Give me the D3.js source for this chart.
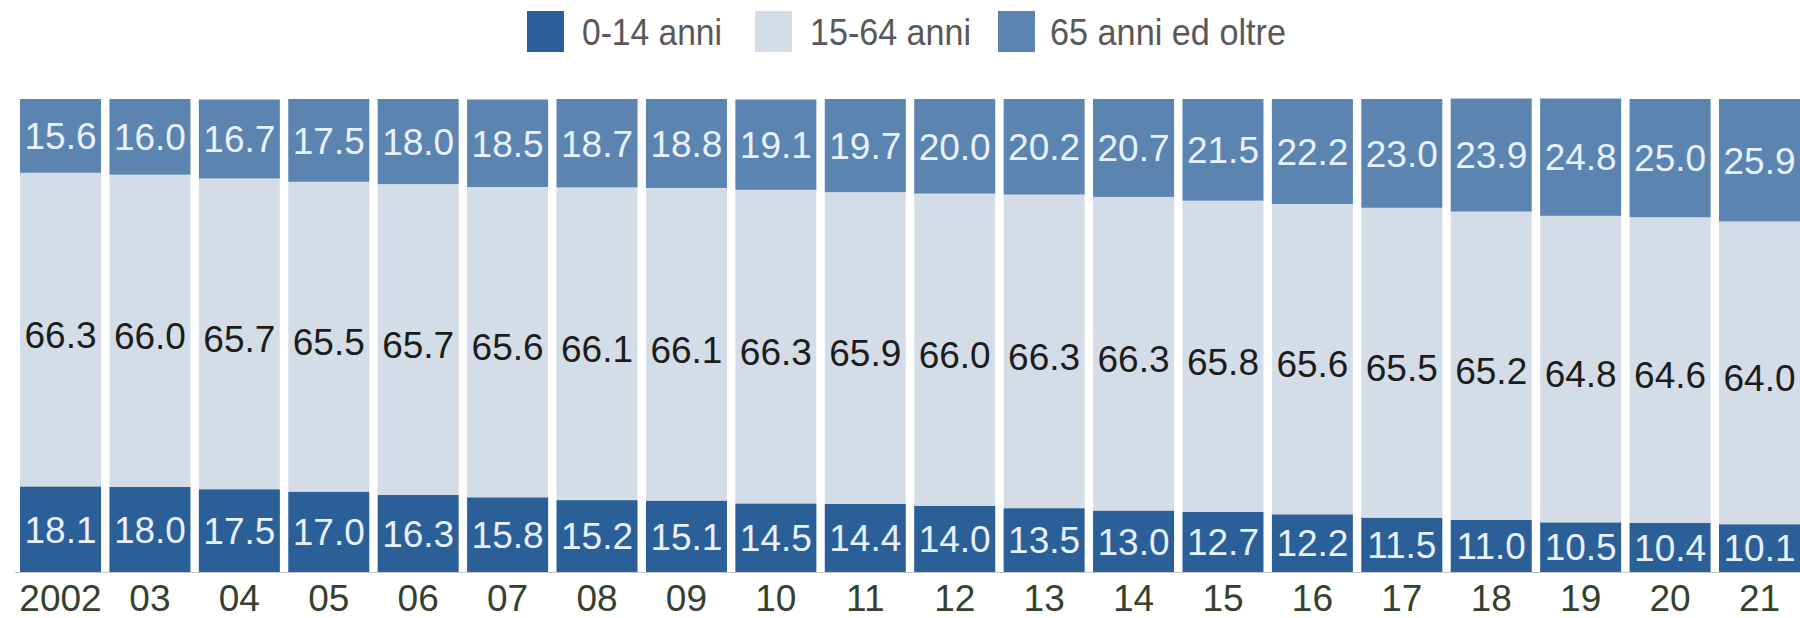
<!DOCTYPE html>
<html>
<head>
<meta charset="utf-8">
<script src="https://cdn.jsdelivr.net/npm/d3@7"></script>
<style>
  body { margin: 0; background: #fff; }
  svg { display: block; font-family: "Liberation Sans", Arial, sans-serif; }
</style>
</head>
<body>
<div id="chart"></div>
<script>
// years shown under the bars
var years = ['2002', '03', '04', '05', '06', '07', '08', '09', '10', '11',
             '12', '13', '14', '15', '16', '17', '18', '19', '20', '21']

// share of population (%) per age group
var young = [18.1, 18.0, 17.5, 17.0, 16.3, 15.8, 15.2, 15.1, 14.5, 14.4,
             14.0, 13.5, 13.0, 12.7, 12.2, 11.5, 11.0, 10.5, 10.4, 10.1]
var adult = [66.3, 66.0, 65.7, 65.5, 65.7, 65.6, 66.1, 66.1, 66.3, 65.9,
             66.0, 66.3, 66.3, 65.8, 65.6, 65.5, 65.2, 64.8, 64.6, 64.0]
var old = [15.6, 16.0, 16.7, 17.5, 18.0, 18.5, 18.7, 18.8, 19.1, 19.7,
           20.0, 20.2, 20.7, 21.5, 22.2, 23.0, 23.9, 24.8, 25.0, 25.9]

var seriesNames = ['0-14 anni', '15-64 anni', '65 anni ed oltre']
var keys = ['young', 'adult', 'old']

var width = 1800
var height = 618

var colors = { young: '#2b5f98', adult: '#d4dde7', old: '#5b84b1' }
var textColors = { young: '#e8f1ff', adult: '#1c1c1c', old: '#e8f1ff' }
// the middle values sit a little under the centre of their segment
var labelShift = { young: 0, adult: 5, old: 0 }

var rows = years.map(function (y, i) {
    return { year: y, young: young[i], adult: adult[i], old: old[i] }
})

var svg = d3.select('#chart').append('svg')
    .attr('width', width)
    .attr('height', height)

var x = d3.scaleBand()
    .domain(years)
    .range([20, 1800])
    .paddingInner(0.094)
    .paddingOuter(0)

var y = d3.scaleLinear()
    .domain([0, 100])
    .range([572, 99])

var stack = d3.stack().keys(keys)
var layers = stack(rows)

// bars
var layerGroups = svg.append('g').attr('class', 'bars')
    .selectAll('g')
    .data(layers)
    .enter().append('g')
    .attr('fill', function (d) { return colors[d.key] })

layerGroups.selectAll('rect')
    .data(function (d) { return d })
    .enter().append('rect')
    .attr('x', function (d) { return x(d.data.year) })
    .attr('width', x.bandwidth())
    .attr('y', function (d) { return y(d[1]) })
    .attr('height', function (d) { return y(d[0]) - y(d[1]) })

// values inside segments
layerGroups.each(function (layer) {
    d3.select(this).selectAll('text')
        .data(layer)
        .enter().append('text')
        .attr('x', function (d) { return x(d.data.year) + x.bandwidth() / 2 })
        .attr('y', function (d) { return (y(d[0]) + y(d[1])) / 2 + labelShift[layer.key] })
        .attr('dy', '0.36em')
        .attr('text-anchor', 'middle')
        .attr('font-size', 37)
        .attr('fill', textColors[layer.key])
        .text(function (d) { return d.data[layer.key].toFixed(1) })
})

// baseline
svg.append('line')
    .attr('x1', 15).attr('x2', width)
    .attr('y1', y(0) + 0.5).attr('y2', y(0) + 0.5)
    .attr('stroke', '#c8c8c8')
    .attr('stroke-width', 1)

// year labels
var xAxis = d3.axisBottom(x).tickSize(0).tickPadding(0)
var axisG = svg.append('g')
    .attr('transform', 'translate(0,' + (y(0) + 12) + ')')
    .call(xAxis)
axisG.select('.domain').remove()
axisG.selectAll('text')
    .attr('font-size', 37)
    .attr('font-family', '"Liberation Sans", Arial, sans-serif')
    .attr('fill', '#36402f')
    .attr('dy', '0.72em')

// legend
var legendX = [527, 755, 998]
var legendTextX = [582, 810, 1050]
var legendTextW = [140, 161, 236]
var legend = svg.append('g').attr('class', 'legend')
keys.forEach(function (k, i) {
    legend.append('rect')
        .attr('x', legendX[i]).attr('y', 11)
        .attr('width', 37).attr('height', 41)
        .attr('fill', colors[k])
    legend.append('text')
        .attr('x', legendTextX[i])
        .attr('y', 45)
        .attr('font-size', 37)
        .attr('fill', '#585858')
        .attr('textLength', legendTextW[i])
        .attr('lengthAdjust', 'spacingAndGlyphs')
        .text(seriesNames[i])
})
</script>
</body>
</html>
